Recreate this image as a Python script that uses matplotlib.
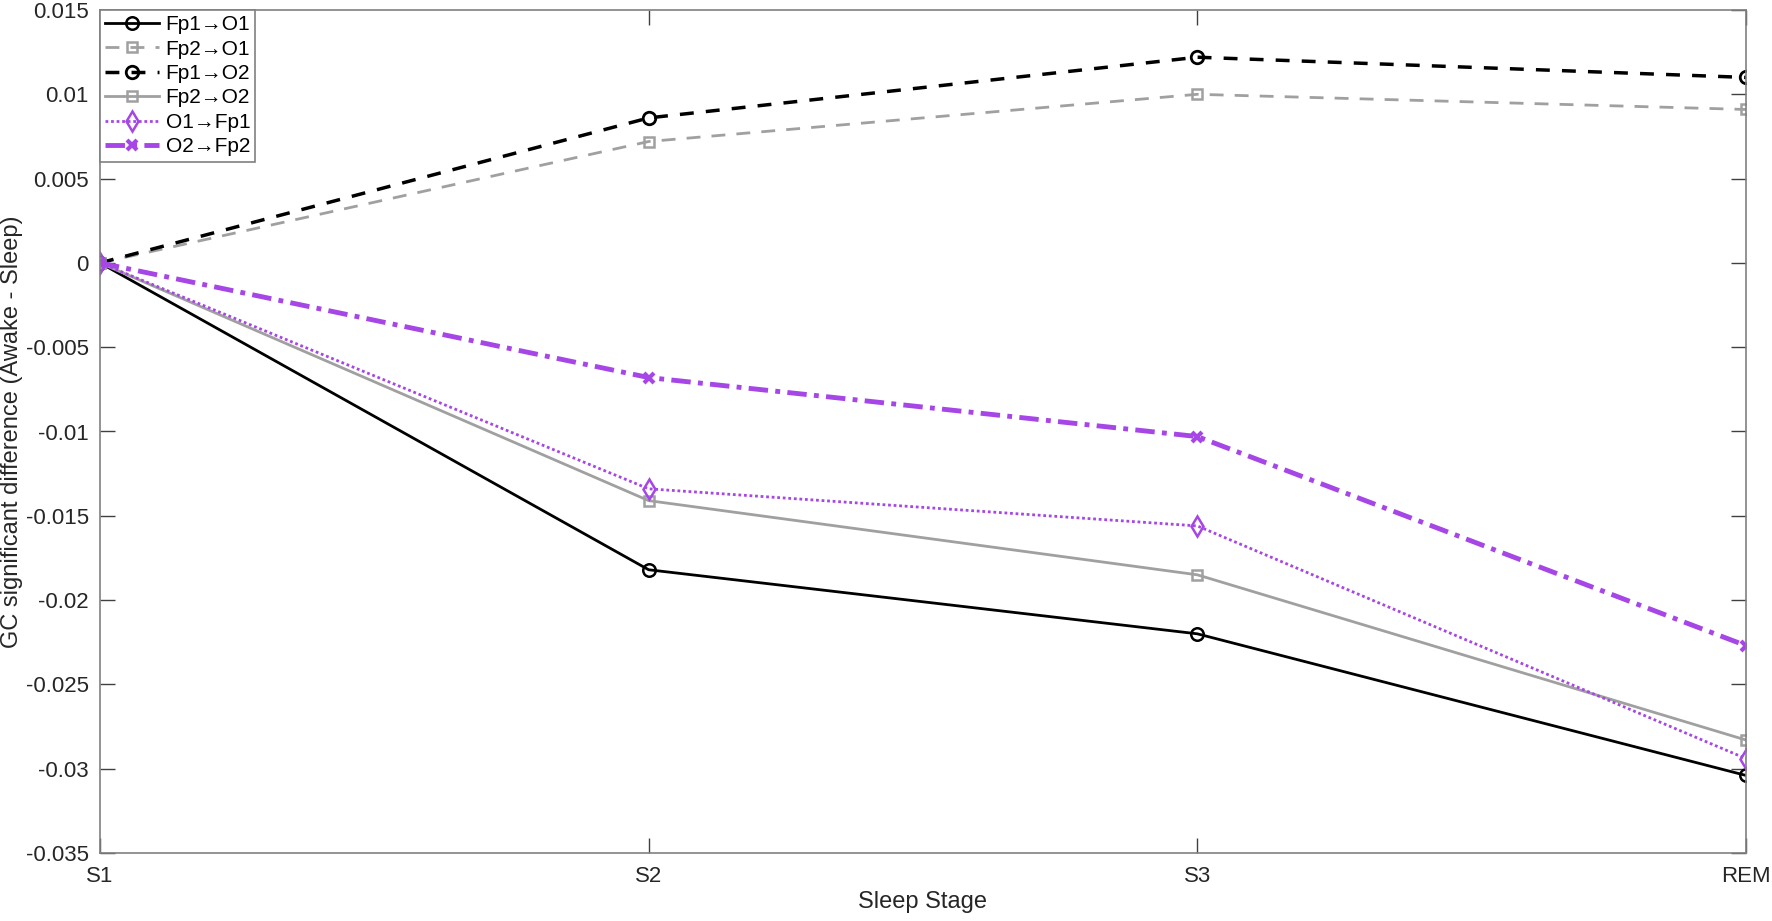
import matplotlib
matplotlib.use("Agg")
import matplotlib.pyplot as plt
from matplotlib.ticker import FixedLocator, FixedFormatter

plt.rcParams['font.family'] = ['Liberation Sans', 'DejaVu Sans']

stages = ['S1', 'S2', 'S3', 'REM']
fp1_o1 = [0.0, -0.0182, -0.0220, -0.0304]
fp2_o1 = [0.0, 0.0072, 0.0100, 0.0091]
fp1_o2 = [0.0, 0.0086, 0.0122, 0.0110]
fp2_o2 = [0.0, -0.0141, -0.0185, -0.0283]
o1_fp1 = [0.0, -0.0134, -0.0156, -0.0294]
o2_fp2 = [0.0, -0.0068, -0.0103, -0.0227]
yticks = [-0.035, -0.03, -0.025, -0.02, -0.015, -0.01, -0.005, 0, 0.005, 0.01, 0.015]
yticklabels = ['-0.035', '-0.03', '-0.025', '-0.02', '-0.015', '-0.01', '-0.005', '0', '0.005', '0.01', '0.015']

fig = plt.figure(figsize=(17.72, 9.21), dpi=100)
ax = fig.add_axes([100/1772, 1-853/921, (1746-100)/1772, (853-10)/921])

x = list(range(1, len(stages)+1))
purple = '#A646E6'
gray = '#A0A0A0'
ax.plot(x, fp1_o1, color='black', lw=2, ls='-', marker='o', ms=9, mfc='none', mew=1.8, label='Fp1→O1')
ax.plot(x, fp2_o1, color=gray, lw=2, ls=(0, (5, 4)), marker='s', ms=7, mfc='none', mew=1.8, label='Fp2→O1')
ax.plot(x, fp1_o2, color='black', lw=2.5, ls=(0, (4, 3.5)), marker='o', ms=9, mfc='none', mew=2, label='Fp1→O2')
ax.plot(x, fp2_o2, color=gray, lw=2, ls='-', marker='s', ms=7, mfc='none', mew=1.8, label='Fp2→O2')
ax.plot(x, o1_fp1, color=purple, lw=2, ls=(0, (1, 1)), marker='d', ms=10, mfc='none', mew=1.8, label='O1→Fp1')
ax.plot(x, o2_fp2, color=purple, lw=3.5, ls=(0, (4, 1.5, 1, 1.5)), marker='x', ms=7, mew=3, label='O2→Fp2')

ax.set_xlim(1, 4)
ax.set_ylim(-0.035, 0.015)
ax.xaxis.set_major_locator(FixedLocator(x))
ax.xaxis.set_major_formatter(FixedFormatter(stages))
ax.yaxis.set_major_locator(FixedLocator(yticks))
ax.yaxis.set_major_formatter(FixedFormatter(yticklabels))
ax.tick_params(direction='in', length=11, width=1, colors='#404040', labelcolor='#262626',
               labelsize=16, top=True, right=True)
ax.tick_params(axis='x', pad=9)
ax.tick_params(axis='y', pad=8)
for s in ax.spines.values():
    s.set_color('#808080')
    s.set_linewidth(1.2)
ax.set_xlabel('Sleep Stage', fontsize=17, color='#262626', labelpad=3)
ax.set_ylabel('GC significant difference (Awake - Sleep)', fontsize=17, color='#262626')
ax.yaxis.set_label_coords(-0.047, 0.5)

leg = ax.legend(loc='upper left', borderaxespad=0, fontsize=15, handlelength=2.6,
                labelspacing=0.26, handletextpad=0.3, borderpad=0.25, fancybox=False,
                framealpha=1, edgecolor='#808080')
leg.get_frame().set_linewidth(1.2)

fig.savefig('out.png', dpi=100)
